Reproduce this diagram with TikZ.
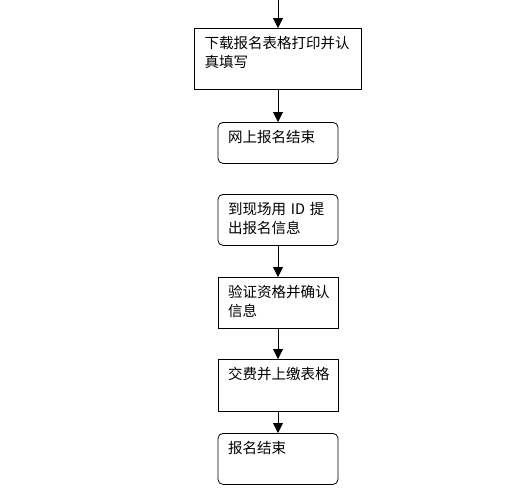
\documentclass[tikz,border=0pt]{standalone}
\usepackage{fontspec}
\usepackage{tikz}
\usetikzlibrary{arrows.meta}
\newfontfamily\cn{Noto Sans CJK SC}
\tikzset{stepbox/.style={draw=black,line width=0.8pt,rectangle,anchor=north,align=left,inner xsep=10pt,inner ysep=0pt,text height=20pt,font=\cn\fontsize{14.5}{19}\selectfont}}
\tikzset{endbox/.style={stepbox,rounded corners=5pt}}
\tikzset{flow/.style={line width=0.8pt,-{Triangle[width=10pt,length=10pt]}}}

\begin{document}
\begin{tikzpicture}[x=1pt,y=-1pt]
\useasboundingbox (0,0) rectangle (517,491);

\coordinate (in) at (278,0);
\node[stepbox,text width=147pt,text depth=41pt] (form) at (278,28) {下载报名表格打印并认\\真填写};
\node[endbox,text width=100pt,text depth=21pt] (web) at (278,122) {网上报名结束};
\node[endbox,text width=100pt,text depth=31pt] (site) at (278,194) {到现场用 ID 提\\出报名信息};
\node[stepbox,text width=100pt,text depth=31pt] (check) at (278,277) {验证资格并确认\\信息};
\node[stepbox,text width=100pt,text depth=32pt] (pay) at (278,359) {交费并上缴表格};
\node[endbox,text width=100pt,text depth=31pt] (done) at (278,433) {报名结束};

\draw[flow] (in) -- (form);
\draw[flow] (form) -- (web);
\draw[flow] (site) -- (check);
\draw[flow] (check) -- (pay);
\draw[flow] (pay) -- (done);

\end{tikzpicture}
\end{document}
